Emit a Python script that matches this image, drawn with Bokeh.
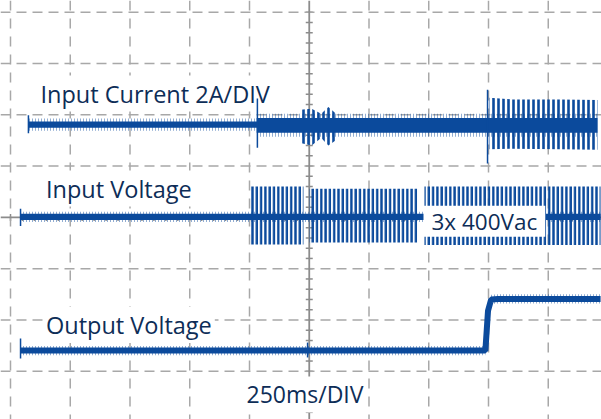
import numpy as np
from bokeh.plotting import figure
from bokeh.models import Range1d, Span, Label
from bokeh.embed import file_html
from bokeh.resources import INLINE

# ---------------- data: time in ms (250 ms/div), amplitude in screen divisions ----------------
grid_t = [0, 250, 500, 750, 1000, 1500, 1750, 2000, 2250, 2500]   # dashed vertical divisions
grid_v = [0, 1, 2, 3, 5, 6, 7, 8]                                  # dashed horizontal divisions
center_t = 1250
center_v = 4

# Input current (2 A/div)
cur_core_t = [75, 1030, 1030, 2456]
cur_core_hi = [5.87, 5.87, 5.94, 5.94]
cur_core_lo = [5.75, 5.75, 5.65, 5.65]
cur_fuzz_hi = [5.93, 5.93, 6.02, 6.02]
cur_fuzz_lo = [5.69, 5.69, 5.57, 5.57]
cur_burst_t = [[1213, 1260, 1300, 1330, 1360], [2004, 2100, 2300, 2456]]
cur_burst_hi = [[6.10, 6.12, 6.02, 6.15, 6.03], [6.33, 6.30, 6.30, 6.29]]
cur_burst_lo = [[5.45, 5.40, 5.55, 5.40, 5.50], [5.33, 5.34, 5.33, 5.32]]
cur_spike_t = [75, 1033, 1996]
cur_spike_hi = [5.99, 6.32, 6.49]
cur_spike_lo = [5.64, 5.36, 5.05]

# Input voltage (3x 400 Vac)
vin_core_t = [42, 2469]
vin_core_hi = [4.07, 4.07]
vin_core_lo = [3.95, 3.95]
vin_fuzz_hi = [4.11, 4.11]
vin_fuzz_lo = [3.91, 3.91]
vin_osc_t = [[1004, 1226], [1251, 1703], [1732, 2469]]
vin_osc_hi = [[4.60, 4.60], [4.56, 4.56], [4.60, 4.60]]
vin_osc_lo = [[3.47, 3.47], [3.51, 3.51], [3.46, 3.46]]
vin_spike_t = [42]
vin_spike_hi = [4.17]
vin_spike_lo = [3.83]

# Output voltage
vout_t = [42, 1987, 1998, 2011, 2040, 2469]
vout_v = [1.405, 1.405, 2.18, 2.40, 2.41, 2.41]
vout_spike_t = [42, 1243]
vout_spike_hi = [1.64, 1.56]
vout_spike_lo = [1.25, 1.27]

labels = ["Input Current 2A/DIV", "Input Voltage", "Output Voltage", "250ms/DIV", "3x 400Vac"]

# ---------------- styling / layout ----------------
BLUE = "#0b4a9c"
TEXT = "#0d2d57"
GRID = "#a8a8a8"
CENTER = "#8c8c8c"
W, H = 601, 419

def T(px):   # picture pixel x -> ms
    return (px - 10) * 250 / 59.75

def V(py):   # picture pixel y -> divisions
    return (422.1 - py) / 51.3

p = figure(width=W, height=H, x_range=Range1d(T(0), T(W)), y_range=Range1d(V(H), V(0)),
           toolbar_location=None, output_backend="svg", min_border=0,
           x_axis_location=None, y_axis_location=None, outline_line_color=None,
           background_fill_color="white", border_fill_color="white")
p.grid.visible = False

for t in grid_t:
    p.add_layout(Span(location=t, dimension="height", line_color=GRID, line_width=1.5,
                      line_dash="10 8", level="image"))
for v in grid_v:
    p.add_layout(Span(location=v, dimension="width", line_color=GRID, line_width=1.5,
                      line_dash="10 6", level="image"))
p.add_layout(Span(location=center_t, dimension="height", line_color=CENTER, line_width=1.8, level="image"))
p.add_layout(Span(location=center_v, dimension="width", line_color=CENTER, line_width=1.8, level="image"))
minor_v = np.arange(0, 8.01, 0.2)
minor_t = np.arange(0, 2500.1, 50)
p.scatter(x=[center_t] * len(minor_v), y=minor_v, marker="dash", size=7, line_color=CENTER,
          line_width=1.5, level="image")
p.scatter(x=minor_t, y=[center_v] * len(minor_t), marker="dash", angle=np.pi / 2, size=7,
          line_color=CENTER, line_width=1.5, level="image")

# Input current
p.varea(x=cur_core_t, y1=cur_fuzz_lo, y2=cur_fuzz_hi, fill_alpha=0, hatch_pattern="vertical_line",
        hatch_color=BLUE, hatch_scale=3, hatch_weight=1.0, hatch_alpha=0.45)
for tt, hi, lo in zip(cur_burst_t, cur_burst_hi, cur_burst_lo):
    p.varea(x=tt, y1=lo, y2=hi, fill_alpha=0, hatch_pattern="vertical_line",
            hatch_color=BLUE, hatch_scale=5, hatch_weight=2.6)
p.varea(x=cur_core_t, y1=cur_core_lo, y2=cur_core_hi, fill_color=BLUE)
p.segment(x0=cur_spike_t, y0=cur_spike_lo, x1=cur_spike_t, y1=cur_spike_hi, line_color=BLUE, line_width=1.5)

# Input voltage
p.varea(x=vin_core_t, y1=vin_fuzz_lo, y2=vin_fuzz_hi, fill_alpha=0, hatch_pattern="vertical_line",
        hatch_color=BLUE, hatch_scale=3, hatch_weight=1.0, hatch_alpha=0.45)
for tt, hi, lo in zip(vin_osc_t, vin_osc_hi, vin_osc_lo):
    p.varea(x=tt, y1=lo, y2=hi, fill_alpha=0, hatch_pattern="vertical_line",
            hatch_color=BLUE, hatch_scale=4.3, hatch_weight=2.5)
p.varea(x=vin_core_t, y1=vin_core_lo, y2=vin_core_hi, fill_color=BLUE)
p.segment(x0=vin_spike_t, y0=vin_spike_lo, x1=vin_spike_t, y1=vin_spike_hi, line_color=BLUE, line_width=1.5)

# Output voltage
vo = np.array(vout_v)
p.varea(x=vout_t, y1=vo - 0.09, y2=vo + 0.09, fill_alpha=0, hatch_pattern="vertical_line",
        hatch_color=BLUE, hatch_scale=3, hatch_weight=1.0, hatch_alpha=0.45)
p.line(x=vout_t, y=vout_v, line_color=BLUE, line_width=6)
p.segment(x0=vout_spike_t, y0=vout_spike_lo, x1=vout_spike_t, y1=vout_spike_hi, line_color=BLUE, line_width=1.5)

# Labels: (left px, baseline px, font px, horizontal pad, vertical pad, level)
label_pos = [(41, 102, 23.5, 3, 2, "underlay"), (46.5, 197, 23.5, 3, 2, "underlay"),
             (46.5, 333.5, 23.5, 3, 2, "underlay"), (247, 402.7, 23, 3, 2, "annotation"),
             (432, 227.3, 22.5, 8, 0, "annotation")]
for txt, (px, py, fs, hp, vp, lvl) in zip(labels, label_pos):
    shift = 0.293 * fs + vp
    p.add_layout(Label(x=T(px - hp - 1), y=V(py - shift), text=txt, text_font="Open Sans",
                       text_font_size=f"{fs}px", text_color=TEXT, text_align="left",
                       text_baseline="alphabetic", background_fill_color="white",
                       background_fill_alpha=1.0, padding=(hp, hp, vp, vp), level=lvl))

open("out.html", "w").write(file_html(p, INLINE))
